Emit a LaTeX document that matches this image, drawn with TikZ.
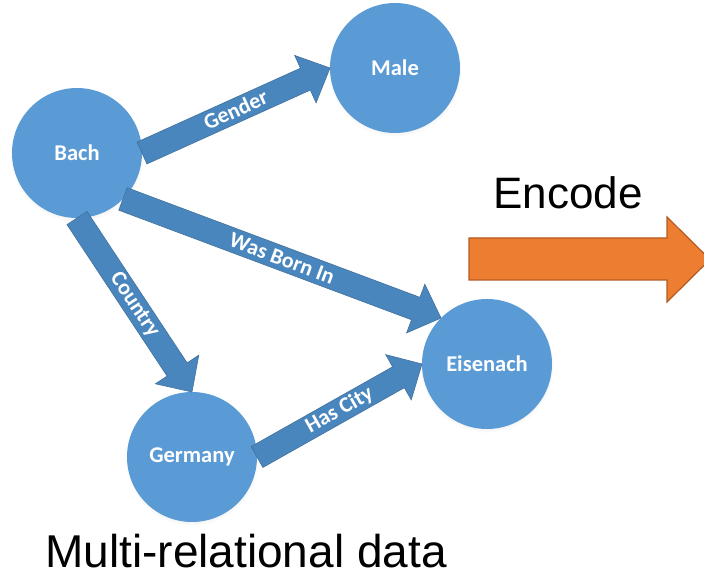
\documentclass[tikz,border=0pt]{standalone}
\usepackage{fontspec}
\setmainfont{Liberation Sans}
\newfontfamily\calib{Carlito}
\usetikzlibrary{calc,shadows}
\definecolor{nodeblue}{HTML}{5B9BD5}
\definecolor{arrowblue}{HTML}{4A86BE}
\definecolor{arrowedge}{HTML}{41719C}
\definecolor{encfill}{HTML}{ED7D31}
\definecolor{encedge}{HTML}{B45A20}
\tikzset{
  entity/.style={circle, fill=nodeblue, minimum size=130pt, inner sep=0pt, outer sep=0pt,
    circular drop shadow={shadow xshift=0pt, shadow yshift=-2pt, opacity=0.18, shadow scale=1.03},
    text=white, font=\calib\bfseries\fontsize{22.5}{26}\selectfont},
  rellabel/.style={sloped, text=white, inner sep=0pt, font=\calib\bfseries\fontsize{22}{25}\selectfont},
  blockarrow/.style={fill=arrowblue, draw=arrowedge, line width=0.6pt, line join=miter,
    to path={let \p1=(\tikztostart), \p2=(\tikztotarget),
      \n1={atan2(\y2-\y1,\x2-\x1)}, \n2={veclen(\x2-\x1,\y2-\y1)} in
      ($(\p1)+(\n1+90:12pt)$)
      -- ($(\p1)+(\n1+90:12pt)+(\n1:\n2-27pt)$)
      -- ($(\p1)+(\n1+90:26pt)+(\n1:\n2-27pt)$)
      -- (\p2)
      -- ($(\p1)+(\n1-90:26pt)+(\n1:\n2-27pt)$)
      -- ($(\p1)+(\n1-90:12pt)+(\n1:\n2-27pt)$)
      -- ($(\p1)+(\n1-90:12pt)$) -- cycle}},
  encodearrow/.style={fill=encfill, draw=encedge, line width=1.2pt, line join=miter},
  bigtext/.style={inner sep=0pt, anchor=base}
}
\begin{document}
\begin{tikzpicture}[x=1pt,y=-1pt]
\useasboundingbox (0,0) rectangle (704,577);
\clip (0,0) rectangle (704,577);
% entities
\node[entity] (bach) at (77,153) {Bach};
\node[entity] (male) at (395,68) {Male};
\node[entity] (eis) at (487,364) {Eisenach};
\node[entity] (ger) at (192,457) {Germany};
% relations
\draw[blockarrow] (bach.east) to (male.west);
\path (bach.east) -- node[rellabel, yshift=1pt] {Gender} (male.west);
\draw[blockarrow] (bach.-45) to (eis.135);
\path (bach.-45) -- node[rellabel] {Was Born In} (eis.135);
\draw[blockarrow] (bach.south) to (ger.north);
\path (bach.south) -- node[rellabel] {Country} (ger.north);
\draw[blockarrow] (ger.east) to (eis.west);
\path (ger.east) -- node[rellabel] {Has City} (eis.west);
% encode arrow
\draw[encodearrow] (469,238) -- (667,238) -- (667,217) -- (710,259.5) -- (667,302) -- (667,280) -- (469,280) -- cycle;
\node[bigtext, font=\fontsize{44}{50}\selectfont] (enc) at (568,209) {Encode};
\node[bigtext, font=\fontsize{46}{52}\selectfont] (mrd) at (246,567) {Multi-relational data};
\end{tikzpicture}
\end{document}
